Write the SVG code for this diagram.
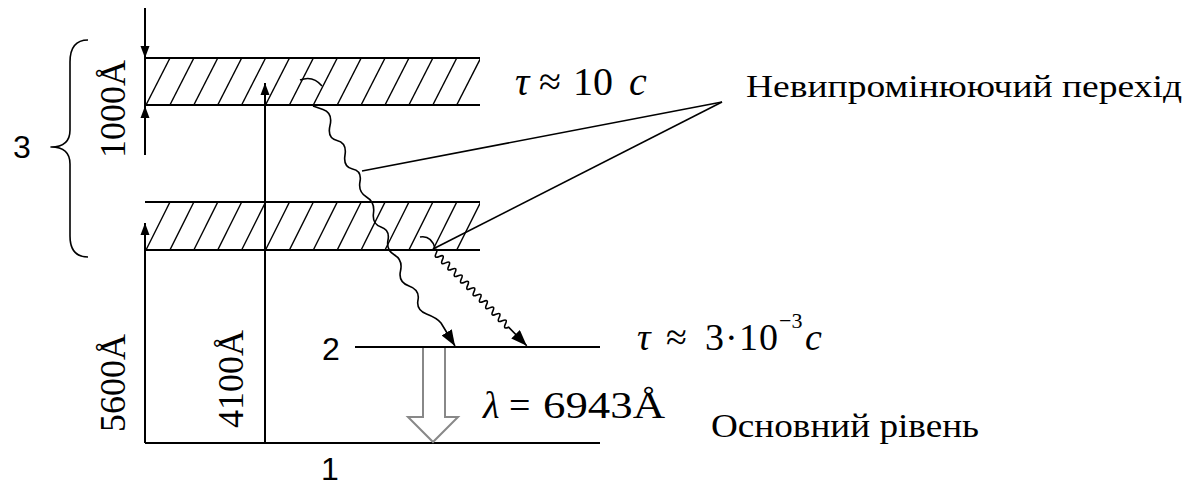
<svg xmlns="http://www.w3.org/2000/svg" width="1198" height="488" viewBox="0 0 1198 488">
<style>
.ln{stroke:#000;stroke-width:2;fill:none}
.h{stroke:#000;stroke-width:1.4}
.w{stroke:#000;stroke-width:1.6;fill:none;stroke-linejoin:round}
.t{font-family:'Liberation Serif','Times New Roman',Times,serif;fill:#000}
.a{font-family:'Liberation Sans',Arial,Helvetica,sans-serif;fill:#000}
.i{font-style:italic}
</style>
<defs>
<marker id="ah" markerWidth="12" markerHeight="12" refX="16" refY="6" viewBox="0 0 16 12" orient="auto" markerUnits="userSpaceOnUse">
<path d="M0 0 L16 6 L0 12 Z" fill="#000"/>
</marker>
<marker id="aw" markerWidth="16" markerHeight="12" refX="16" refY="6" viewBox="0 0 16 12" orient="auto" markerUnits="userSpaceOnUse">
<path d="M0 0 L16 6 L0 12 Z" fill="#000"/>
</marker>
<clipPath id="c1"><rect x="145" y="58" width="335" height="47"/></clipPath>
<clipPath id="c2"><rect x="145" y="202" width="335" height="48"/></clipPath>
</defs>
<rect width="1198" height="488" fill="#fff"/>

<g id="level3-upper">
<g clip-path="url(#c1)" class="h">
<line x1="146" y1="105" x2="170" y2="58"/><line x1="169.9" y1="105" x2="193.9" y2="58"/>
<line x1="193.8" y1="105" x2="217.8" y2="58"/><line x1="217.7" y1="105" x2="241.7" y2="58"/>
<line x1="241.6" y1="105" x2="265.6" y2="58"/><line x1="265.5" y1="105" x2="289.5" y2="58"/>
<line x1="289.4" y1="105" x2="313.4" y2="58"/><line x1="313.3" y1="105" x2="337.3" y2="58"/>
<line x1="337.2" y1="105" x2="361.2" y2="58"/><line x1="361.1" y1="105" x2="385.1" y2="58"/>
<line x1="385" y1="105" x2="409" y2="58"/><line x1="408.9" y1="105" x2="432.9" y2="58"/>
<line x1="432.8" y1="105" x2="456.8" y2="58"/><line x1="456.7" y1="105" x2="480.7" y2="58"/>
</g>
<line class="ln" x1="145" y1="58" x2="480" y2="58"/>
<line class="ln" x1="145" y1="105" x2="480" y2="105"/>
</g>

<g id="level3-lower">
<g clip-path="url(#c2)" class="h">
<line x1="146" y1="250" x2="170" y2="202"/><line x1="169.9" y1="250" x2="193.9" y2="202"/>
<line x1="193.8" y1="250" x2="217.8" y2="202"/><line x1="217.7" y1="250" x2="241.7" y2="202"/>
<line x1="241.6" y1="250" x2="265.6" y2="202"/><line x1="265.5" y1="250" x2="289.5" y2="202"/>
<line x1="289.4" y1="250" x2="313.4" y2="202"/><line x1="313.3" y1="250" x2="337.3" y2="202"/>
<line x1="337.2" y1="250" x2="361.2" y2="202"/><line x1="361.1" y1="250" x2="385.1" y2="202"/>
<line x1="385" y1="250" x2="409" y2="202"/><line x1="408.9" y1="250" x2="432.9" y2="202"/>
<line x1="432.8" y1="250" x2="456.8" y2="202"/><line x1="456.7" y1="250" x2="480.7" y2="202"/>
</g>
<line class="ln" x1="145" y1="202" x2="480" y2="202"/>
<line class="ln" x1="145" y1="250" x2="480" y2="250"/>
</g>

<g id="level2">
<line class="ln" x1="355" y1="347" x2="600" y2="347"/>
<text class="a" x="322" y="360" font-size="32">2</text>
<text class="t" y="350" font-size="38"><tspan class="i" x="637">τ</tspan><tspan x="666">≈</tspan><tspan x="705" textLength="73" lengthAdjust="spacing">3·10</tspan><tspan x="779" y="328" font-size="22">−3</tspan><tspan class="i" x="805" y="350">c</tspan></text>
</g>

<g id="level1">
<line class="ln" x1="145" y1="443" x2="600" y2="443"/>
<text class="a" x="321" y="480" font-size="32">1</text>
<text class="t" x="711" y="437" font-size="33" textLength="268" lengthAdjust="spacingAndGlyphs">Основний рівень</text>
</g>

<g id="brace3">
<path class="w" d="M88 40 Q70 40 70 62 L70 130 Q70 147 51 147 Q70 147 70 164 L70 236 Q70 257 88 257"/>
<text class="a" x="13" y="158" font-size="32">3</text>
</g>

<g id="labels">
<text class="t" y="95" font-size="40"><tspan class="i" x="515">τ</tspan><tspan x="539">≈</tspan><tspan x="573">10</tspan><tspan class="i" x="629">c</tspan></text>
<text class="t" x="746" y="97" font-size="31" textLength="436" lengthAdjust="spacingAndGlyphs">Невипромінюючий перехід</text>
<text class="t" y="418" font-size="38"><tspan class="i" x="483">λ</tspan><tspan x="509">=</tspan><tspan x="543" textLength="122" lengthAdjust="spacingAndGlyphs">6943Å</tspan></text>
<text class="t" font-size="36" transform="translate(125 158) rotate(-90)">1000Å</text>
<text class="t" font-size="36" transform="translate(125 432) rotate(-90)">5600Å</text>
<text class="t" font-size="36" transform="translate(243 428) rotate(-90)">4100Å</text>
</g>

<g id="connectors">
<line class="ln" x1="145" y1="8" x2="145" y2="58" marker-end="url(#ah)"/>
<line class="ln" x1="145" y1="58" x2="145" y2="106"/>
<line class="ln" x1="145" y1="155" x2="145" y2="106" marker-end="url(#ah)"/>
<line class="ln" x1="145" y1="443" x2="145" y2="223" marker-end="url(#ah)"/>
<line class="ln" x1="265" y1="443" x2="265" y2="83" marker-end="url(#ah)"/>
<path class="w" d="M313 106 L323 109.5 Q333 113 330 125.5 Q327 138 337 140.5 Q347 143 345 155 Q343 167 352.5 169 Q362 171 360 181.5 Q358 192 366.5 197 Q375 202 373.5 213 Q372 224 381 227 Q390 230 388 240 Q386 250 394.5 255 Q403 260 400.5 271 Q398 282 409 286 Q420 290 418 300 Q416 310 426.5 314 Q437 318 441 323 L455 346" marker-end="url(#aw)"/>
<g transform="translate(433 250) rotate(45.6)">
<path class="w" d="M0 0 q2.25 -6 4.5 0 t4.5 0 t4.5 0 t4.5 0 t4.5 0 t4.5 0 t4.5 0 t4.5 0 t4.5 0 t4.5 0 t4.5 0 t4.5 0 t4.5 0 t4.5 0 t4.5 0 t4.5 0 t4.5 0 t4.5 0 t4.5 0 t4.5 0 t4.5 0 t4.5 0 t4.5 0 t4.5 0 L134 0" marker-end="url(#aw)"/>
</g>
<path class="w" d="M300 80 Q313 75 322 86"/>
<path class="w" d="M420 237 Q431 235 435 248"/>
<line class="w" x1="722" y1="102" x2="362" y2="171"/>
<line class="w" x1="722" y1="102" x2="433" y2="249"/>
<path d="M423 348 V417 H408 L433 442 L458 417 H445 V348" fill="#fff" stroke="#888" stroke-width="2"/>
</g>
</svg>
